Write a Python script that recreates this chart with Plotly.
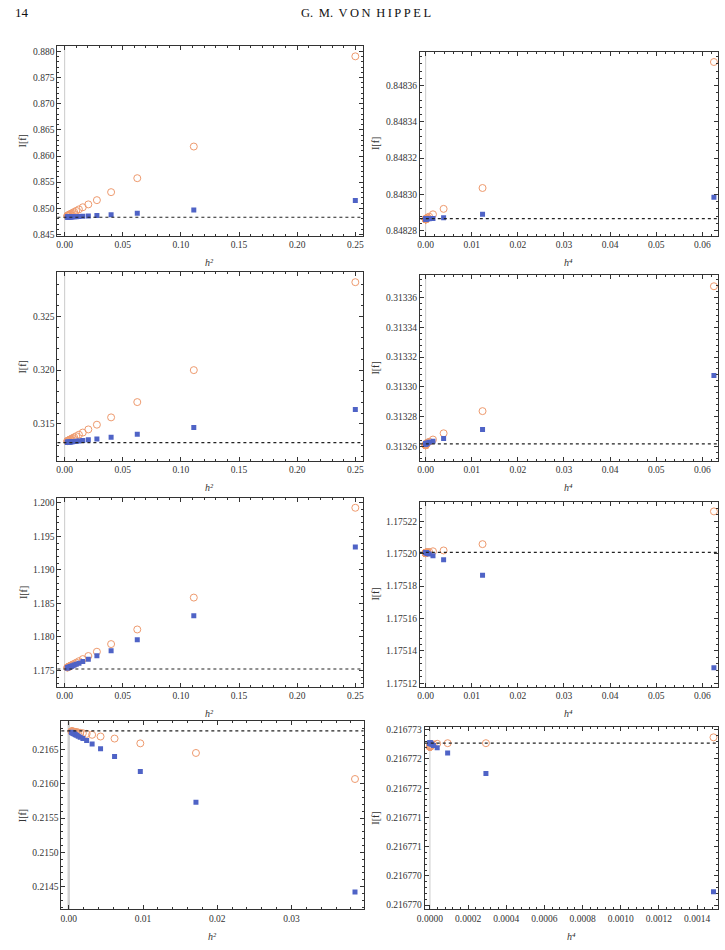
import plotly.graph_objects as go

# ---------------- data ----------------
# abscissae: h^2 and h^4 (rows 1-3), and h^2, h^4 for row 4
h2 = [0.25, 0.1111, 0.0625, 0.04, 0.02778, 0.02041, 0.01563, 0.01235, 0.01, 0.00826,
      0.00694, 0.00592, 0.0051, 0.00444, 0.00391, 0.00346, 0.00309, 0.00277, 0.0025, 0.00227]
h4 = [0.0625, 0.012346, 0.003906, 0.0016, 0.000772, 0.000416, 0.000244, 0.000152, 0.0001, 0.0000683,
      0.0000482, 0.000035, 0.000026, 0.0000198, 0.0000153, 0.000012, 0.0000096, 0.0000077, 0.0000063, 0.0000051]
h2b = [0.03855, 0.01713, 0.009638, 0.006169, 0.004284, 0.003147, 0.00241, 0.001904, 0.001542, 0.001274,
       0.001071, 0.000912, 0.000787, 0.000685, 0.000602, 0.000533, 0.000475, 0.000427, 0.000386, 0.00035]
h4b = [0.001486, 0.0002935, 0.0000929, 0.0000381, 0.00001835, 0.0000099, 0.0000058, 0.00000363, 0.00000238, 0.00000162,
       0.00000115, 0.00000083, 0.00000062, 0.00000047, 0.00000036, 0.00000028, 0.00000023, 0.00000018, 0.00000015, 0.00000012]

# panel 1 (h^2)
p1_orange = [0.87905, 0.86181, 0.85576, 0.85309, 0.85156, 0.85075, 0.85020, 0.84980, 0.84951, 0.84930,
             0.84913, 0.84901, 0.84891, 0.84883, 0.84876, 0.84871, 0.84866, 0.84862, 0.84859, 0.84856]
p1_blue = [0.85151, 0.84968, 0.84907, 0.84878, 0.84864, 0.84855, 0.84848, 0.84844, 0.84841, 0.84839,
           0.84837, 0.84836, 0.84835, 0.84834, 0.84834, 0.84833, 0.84833, 0.84832, 0.84832, 0.84832]
# panel 2 (h^4)
p2_orange = [0.848373, 0.8483035, 0.848292, 0.848289, 0.8482877, 0.8482872, 0.8482868, 0.8482866, 0.8482865, 0.8482864,
             0.8482863, 0.8482863, 0.8482862, 0.8482862, 0.8482862, 0.8482862, 0.8482862, 0.8482862, 0.8482862, 0.8482862]
p2_blue = [0.8482984, 0.848289, 0.8482871, 0.8482867, 0.8482866, 0.8482866, 0.8482866, 0.8482866, 0.8482866, 0.8482866,
           0.8482866, 0.8482866, 0.8482866, 0.8482866, 0.8482866, 0.8482866, 0.8482866, 0.8482866, 0.8482866, 0.8482866]
# panel 3 (h^2)
p3_orange = [0.32817, 0.32000, 0.31703, 0.31561, 0.31493, 0.31449, 0.31420, 0.31400, 0.31386, 0.31376,
             0.31368, 0.31362, 0.31357, 0.31353, 0.31350, 0.31347, 0.31345, 0.31343, 0.31341, 0.31340]
p3_blue = [0.31635, 0.31466, 0.31405, 0.31376, 0.31361, 0.31352, 0.31346, 0.31342, 0.31339, 0.31337,
           0.31335, 0.31334, 0.31333, 0.31332, 0.31331, 0.31331, 0.31330, 0.31330, 0.31329, 0.31329]
# panel 4 (h^4)
p4_orange = [0.3133676, 0.3132836, 0.3132687, 0.3132645, 0.313263, 0.3132624, 0.313262, 0.3132618, 0.3132614, 0.3132612,
             0.313261, 0.3132608, 0.3132607, 0.3132607, 0.3132607, 0.3132607, 0.3132607, 0.3132607, 0.3132607, 0.3132607]
p4_blue = [0.3133076, 0.3132712, 0.3132652, 0.3132634, 0.3132626, 0.3132622, 0.313262, 0.3132619, 0.3132618, 0.3132617,
           0.3132617, 0.3132617, 0.3132617, 0.3132617, 0.3132617, 0.3132617, 0.3132617, 0.3132617, 0.3132617, 0.3132617]
# panel 5 (h^2)
p5_orange = [1.19926, 1.18586, 1.18110, 1.17892, 1.17778, 1.17714, 1.17668, 1.17637, 1.17615, 1.17598,
             1.17586, 1.17576, 1.17569, 1.17562, 1.17557, 1.17553, 1.17549, 1.17546, 1.17544, 1.17542]
p5_blue = [1.19340, 1.18314, 1.17957, 1.17793, 1.17719, 1.17665, 1.17631, 1.17608, 1.17591, 1.17579,
           1.17569, 1.17562, 1.17556, 1.17552, 1.17548, 1.17545, 1.17542, 1.17540, 1.17538, 1.17536]
# panel 6 (h^4)
p6_orange = [1.1752261, 1.1752059, 1.175202, 1.1752015, 1.1752011, 1.175201, 1.1752009, 1.1752008, 1.1752007, 1.1752006,
             1.1752005, 1.1752004, 1.1752004, 1.1752004, 1.1752004, 1.1752004, 1.1752004, 1.1752004, 1.1752004, 1.1752004]
p6_blue = [1.1751296, 1.1751867, 1.1751963, 1.1751988, 1.1751998, 1.1752002, 1.1752004, 1.1752006, 1.1752007, 1.1752008,
           1.1752008, 1.1752008, 1.1752008, 1.1752008, 1.1752008, 1.1752008, 1.1752008, 1.1752008, 1.1752008, 1.1752008]
# panel 7 (h^2, second grid)
p7_orange = [0.21607, 0.21645, 0.21659, 0.21666, 0.21669, 0.216715, 0.216728, 0.216738, 0.216744, 0.216749,
             0.216753, 0.216756, 0.216758, 0.21676, 0.216762, 0.216763, 0.216764, 0.216765, 0.216766, 0.216766]
p7_blue = [0.21442, 0.21573, 0.21618, 0.21640, 0.21651, 0.21658, 0.21663, 0.21666, 0.21668, 0.216695,
           0.216708, 0.216717, 0.216725, 0.216731, 0.216736, 0.21674, 0.216744, 0.216747, 0.216749, 0.216751]
# panel 8 (h^4, second grid)
p8_orange = [0.21677287, 0.21677277, 0.21677277, 0.21677276, 0.21677275, 0.21677274, 0.21677273, 0.21677272, 0.21677272, 0.21677271,
             0.21677271, 0.21677271, 0.21677271, 0.21677271, 0.21677271, 0.21677271, 0.21677271, 0.21677271, 0.21677271, 0.21677271]
p8_blue = [0.21677023, 0.21677225, 0.2167726, 0.21677269, 0.21677273, 0.21677275, 0.21677276, 0.21677276, 0.21677277, 0.21677277,
           0.21677277, 0.21677277, 0.21677277, 0.21677277, 0.21677277, 0.21677277, 0.21677277, 0.21677277, 0.21677277, 0.21677277]

# exact limits (dotted lines)
limits = [0.848287, 0.8482866, 0.313262, 0.3132616, 1.175201, 1.1752008, 0.2167728, 0.21677277]

# y tick labels of the last panel (as printed)
p8_tickvals = [0.2167700, 0.2167705, 0.2167710, 0.2167715, 0.2167720, 0.2167725, 0.2167730]
p8_ticktext = ["0.216770", "0.216770", "0.216771", "0.216771", "0.216772", "0.216772", "0.216773"]

xs = [h2, h4, h2, h4, h2, h4, h2b, h4b]
oranges = [p1_orange, p2_orange, p3_orange, p4_orange, p5_orange, p6_orange, p7_orange, p8_orange]
blues = [p1_blue, p2_blue, p3_blue, p4_blue, p5_blue, p6_blue, p7_blue, p8_blue]
xtitles = ["h²", "h⁴", "h²", "h⁴", "h²", "h⁴", "h²", "h⁴"]
ytitle = "I[f]"

# ---------------- layout geometry (pixels) ----------------
W, H = 725, 950
boxes = [  # (left, right, top, bottom)
    (50, 359, 44, 235), (417, 719, 50, 235),
    (50, 359, 272, 462), (417, 719, 275, 462),
    (50, 359, 499, 689), (417, 719, 503, 689),
    (54, 360, 724, 913), (422, 719, 730, 913),
]
xranges = [(-0.0062, 0.2562), (-0.00125, 0.0634), (-0.0062, 0.2562), (-0.00125, 0.0634),
           (-0.0062, 0.2562), (-0.00125, 0.0634), (-0.001, 0.0397), (-0.000027, 0.00151)]
yranges = [(0.8448, 0.88108), (0.8482773, 0.8483787), (0.31155, 0.32909), (0.313250, 0.313375),
           (1.17257, 1.20074), (1.175118, 1.175232), (0.21417, 0.21691), (0.21676993, 0.21677304)]
xdt = [0.05, 0.01, 0.05, 0.01, 0.05, 0.01, 0.01, 0.0002]
xminor = [0.01, 0.002, 0.01, 0.002, 0.01, 0.002, 0.002, 0.00004]
xfmt = [".2f", ".2f", ".2f", ".2f", ".2f", ".2f", ".2f", ".4f"]
ydt = [0.005, 0.00002, 0.005, 0.00002, 0.005, 0.00002, 0.0005, None]
yminor = [0.001, 0.000004, 0.001, 0.000004, 0.001, 0.000004, 0.0001, 0.0000001]
yfmt = [".3f", ".5f", ".3f", ".5f", ".3f", ".5f", ".4f", None]

ORANGE = "#EE9A6E"
BLUE = "#4F63C6"
FRAME = "#333333"
TICKFONT = dict(family="Liberation Serif", size=9.5, color="#333333")

fig = go.Figure()
shapes = []
annotations = []

for i in range(8):
    k = "" if i == 0 else str(i + 1)
    xa, ya = "x" + k, "y" + k
    l, r, t, b = boxes[i]
    xdom = [l / W, r / W]
    ydom = [1 - b / H, 1 - t / H]

    # vertical gray axis at x = 0
    shapes.append(dict(type="line", xref=xa, yref=ya + " domain", x0=0, x1=0, y0=0, y1=1,
                       line=dict(color="#D2D2D2", width=2.5 if i == 6 else 1.2), layer="below"))
    # dotted limit line
    shapes.append(dict(type="line", xref=xa + " domain", yref=ya, x0=0, x1=1,
                       y0=limits[i], y1=limits[i], line=dict(color="#222222", width=1.2, dash="dot")))

    fig.add_trace(go.Scatter(x=xs[i], y=oranges[i], mode="markers", xaxis=xa, yaxis=ya,
                             marker=dict(symbol="circle-open", size=7, color=ORANGE, line=dict(width=1, color=ORANGE)),
                             showlegend=False, cliponaxis=True))
    fig.add_trace(go.Scatter(x=xs[i], y=blues[i], mode="markers", xaxis=xa, yaxis=ya,
                             marker=dict(symbol="square", size=5, color=BLUE),
                             showlegend=False, cliponaxis=True))

    xaxis = dict(domain=xdom, anchor=ya, range=list(xranges[i]), dtick=xdt[i], tick0=0, tickformat=xfmt[i],
                 showgrid=False, zeroline=False, showline=True, mirror="allticks", linecolor=FRAME, linewidth=1,
                 ticks="inside", ticklen=4, tickwidth=1, tickcolor=FRAME, tickfont=TICKFONT,
                 minor=dict(dtick=xminor[i], tick0=0, ticks="inside", ticklen=2, tickcolor=FRAME, showgrid=False))
    yaxis = dict(domain=ydom, anchor=xa, range=list(yranges[i]),
                 showgrid=False, zeroline=False, showline=True, mirror="allticks", linecolor=FRAME, linewidth=1,
                 ticks="inside", ticklen=4, tickwidth=1, tickcolor=FRAME, tickfont=TICKFONT,
                 minor=dict(dtick=yminor[i], ticks="inside", ticklen=2, tickcolor=FRAME, showgrid=False))
    if ydt[i] is not None:
        yaxis.update(dtick=ydt[i], tick0=0, tickformat=yfmt[i])
    else:
        yaxis.update(tickmode="array", tickvals=p8_tickvals, ticktext=p8_ticktext)
        yaxis["minor"]["tick0"] = p8_tickvals[0]
    fig.update_layout(**{"xaxis" + k: xaxis, "yaxis" + k: yaxis})

    # axis titles as annotations
    xt_y = b + 27
    annotations.append(dict(text=xtitles[i], xref="paper", yref="paper",
                            x=(l + r) / 2 / W, y=1 - xt_y / H, showarrow=False,
                            font=dict(family="Liberation Serif", size=10, color="#333333", style="italic"),
                            xanchor="center", yanchor="middle"))
    ytx = 15 if i % 2 == 0 else 372
    annotations.append(dict(text=ytitle, xref="paper", yref="paper", x=ytx / W, y=1 - (t + b) / 2 / H,
                            showarrow=False, textangle=-90,
                            font=dict(family="Liberation Serif", size=10, color="#333333"),
                            xanchor="center", yanchor="middle"))

# page header
annotations.append(dict(text="14", xref="paper", yref="paper", x=5 / W, y=1 - 11 / H, showarrow=False,
                        xanchor="left", yanchor="middle", font=dict(family="Liberation Serif", size=13, color="#111111")))
annotations.append(dict(text="G.\u2009 M.\u2009 V\u2009O\u2009N\u2009 H\u2009I\u2009P\u2009P\u2009E\u2009L",
                        xref="paper", yref="paper", x=362 / W, y=1 - 11 / H, showarrow=False,
                        xanchor="center", yanchor="middle", font=dict(family="Liberation Serif", size=12.5, color="#111111")))

fig.update_layout(width=W, height=H, margin=dict(l=0, r=0, t=0, b=0), paper_bgcolor="white",
                  plot_bgcolor="white", shapes=shapes, annotations=annotations, showlegend=False)

fig.write_html("out.html")
